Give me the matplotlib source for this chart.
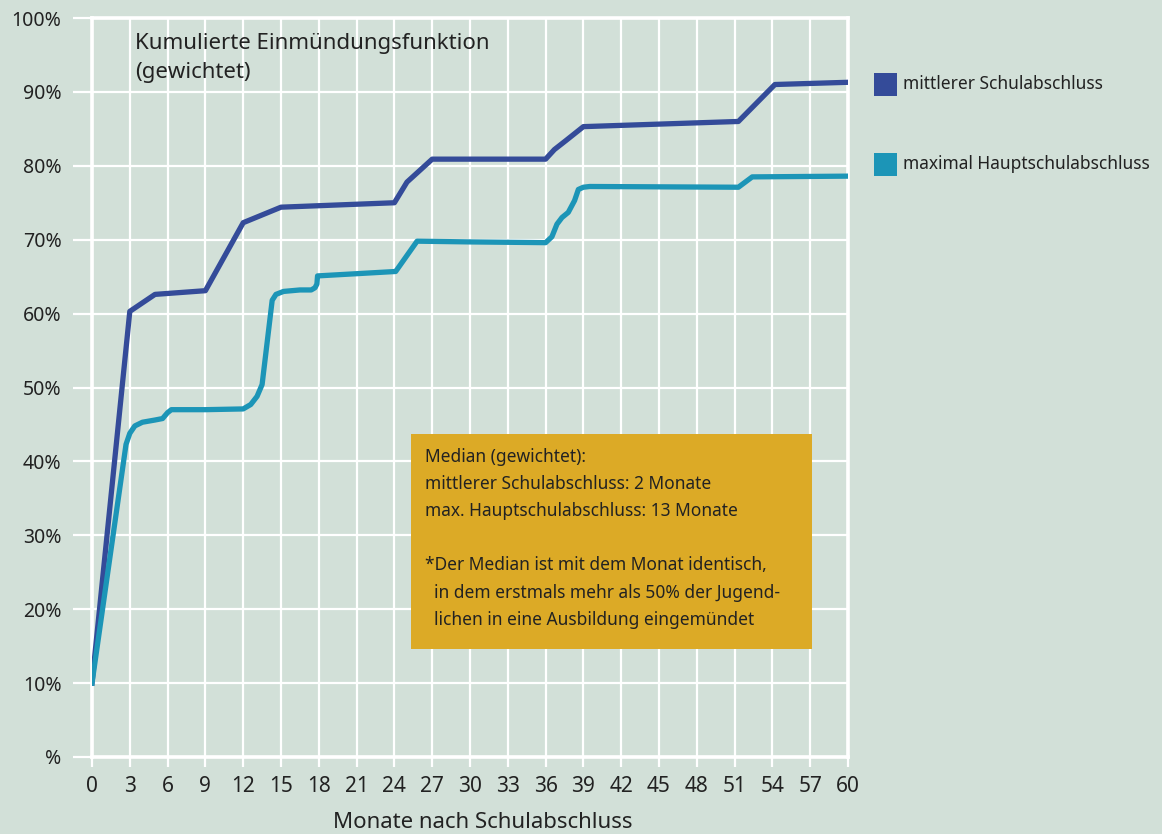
import matplotlib.pyplot as plt
from matplotlib.patches import Rectangle

plt.rcParams['font.family'] = ['Noto Sans', 'DejaVu Sans']

# Kumulierte Einmündungsfunktion
monate_mittel = [0, 3, 5, 9, 12, 15, 24, 25, 27, 36, 36.7, 37.6, 39, 51.3, 54.2, 60]
werte_mittel = [10, 60.3, 62.6, 63.1, 72.3, 74.4, 75.0, 77.8, 80.9, 80.9, 82.2, 83.4, 85.3, 86.0, 91.0, 91.3]

monate_haupt = [0, 2.7, 3.0, 3.4, 4.0, 5.0, 5.6, 6.0, 6.3, 9, 12.0, 12.6, 13.1, 13.5, 14.3, 14.6, 15.2,
                16.5, 17.4, 17.7, 17.85, 17.9, 24.1, 25.8, 30, 36.0, 36.5, 36.9, 37.3, 37.8,
                38.3, 38.6, 39.0, 39.5, 51.3, 52.4, 60]
werte_haupt = [10, 42.3, 43.8, 44.8, 45.3, 45.6, 45.8, 46.6, 47.0, 47.0, 47.1, 47.7, 48.8, 50.4, 61.8, 62.6, 63.0,
               63.2, 63.2, 63.5, 64.0, 65.1, 65.7, 69.8, 69.7, 69.6, 70.4, 72.1, 73.0, 73.7,
               75.3, 76.8, 77.1, 77.2, 77.1, 78.5, 78.6]

x_ticks = list(range(0, 61, 3))
y_ticks = list(range(0, 101, 10))
y_labels = ['%'] + [f'{v}%' for v in y_ticks[1:]]

serien = ['mittlerer Schulabschluss', 'maximal Hauptschulabschluss']
farben = ['#344b99', '#1c95b7']

bg = '#d2e0d8'
text_col = '#222222'

fig = plt.figure(figsize=(11.62, 8.34), dpi=100, facecolor=bg)
ax = fig.add_axes([92 / 1162, 1 - 757 / 834, 756 / 1162, 739 / 834])
ax.set_facecolor(bg)

ax.set_xlim(0, 60)
ax.set_ylim(0, 100)

# white grid
ax.set_xticks(x_ticks)
ax.set_yticks(y_ticks)
ax.grid(True, color='white', linewidth=1.6, zorder=1)
for s in ax.spines.values():
    s.set_color('white')
    s.set_linewidth(2.6)
ax.tick_params(axis='x', colors='white', length=7, width=1.6, labelcolor=text_col,
               labelsize=15, pad=7)
ax.tick_params(axis='y', colors='white', length=14, width=1.6, labelcolor=text_col,
               labelsize=14, pad=8)
ax.set_yticklabels(y_labels)
fig.text(483 / 1162, 1 - 823 / 834, 'Monate nach Schulabschluss', fontsize=16, color=text_col,
         ha='center', va='center')

ax.plot(monate_mittel, werte_mittel, color=farben[0], linewidth=3.8,
        solid_joinstyle='round', zorder=3)
ax.plot(monate_haupt, werte_haupt, color=farben[1], linewidth=3.8,
        solid_joinstyle='round', zorder=4)

ax.text(3.4, 98.0, 'Kumulierte Einmündungsfunktion\n(gewichtet)', fontsize=16,
        color=text_col, va='top', ha='left', linespacing=1.5, zorder=5)

# median box
box = Rectangle((411 / 1162, 1 - 649 / 834), 401 / 1162, 215 / 834, transform=fig.transFigure,
                facecolor='#dcaa26', edgecolor='none', zorder=5)
fig.patches.append(box)
box_text = ('Median (gewichtet):\n'
            'mittlerer Schulabschluss: 2 Monate\n'
            'max. Hauptschulabschluss: 13 Monate\n'
            '\n'
            '*Der Median ist mit dem Monat identisch,\n'
            '  in dem erstmals mehr als 50% der Jugend-\n'
            '  lichen in eine Ausbildung eingemündet')
fig.text(425 / 1162, 1 - 448 / 834, box_text, fontsize=12.5, color=text_col, va='top', ha='left',
         linespacing=1.65, zorder=6)

# legend
for i, (name, col) in enumerate(zip(serien, farben)):
    yc = [84, 164][i]
    fig.patches.append(Rectangle((874 / 1162, 1 - (yc + 12) / 834), 23 / 1162, 23 / 834,
                                 transform=fig.transFigure, facecolor=col, edgecolor='none'))
    fig.text(903 / 1162, 1 - yc / 834, name, fontsize=12.5, color=text_col, va='center', ha='left')

fig.savefig('out.png', dpi=100, facecolor=bg)
